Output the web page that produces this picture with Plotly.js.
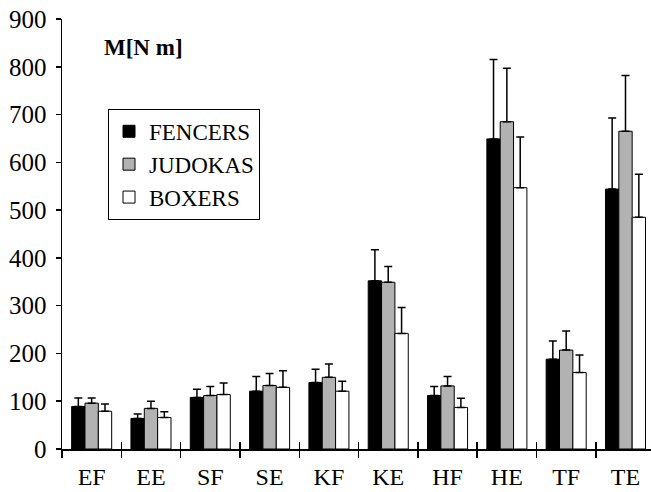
<!DOCTYPE html>
<html>
<head>
<meta charset="utf-8">
<script src="https://cdn.plot.ly/plotly-3.0.1.min.js"></script>
<style>html,body{margin:0;padding:0;background:#fff;overflow:hidden}</style>
</head>
<body>
<div id="chart" style="width:651px;height:492px"></div>
<script>
const categories = ['EF','EE','SF','SE','KF','KE','HF','HE','TF','TE'];
const fencers   = [89, 64, 108, 121, 139, 352, 112, 649, 188, 544];
const judokas   = [96, 85, 112, 133, 150, 349, 132, 685, 207, 665];
const boxers    = [79, 66, 114, 129, 121, 242, 87, 547, 160, 485];
const fencersSD = [18, 9, 17, 31, 28, 65, 19, 166, 38, 149];
const judokasSD = [11, 15, 19, 25, 28, 33, 20, 112, 40, 117];
const boxersSD  = [15, 12, 24, 35, 21, 54, 19, 106, 37, 90];
const seriesNames = ['FENCERS','JUDOKAS','BOXERS'];
const seriesColors = ['#000000','#b2b2b2','#ffffff'];

const FONT = '"Liberation Serif", "Times New Roman", serif';
const vals = [fencers, judokas, boxers];
const sds = [fencersSD, judokasSD, boxersSD];

const traces = vals.map((v, i) => ({
  type: 'bar',
  name: seriesNames[i],
  x: categories,
  y: v,
  marker: {color: seriesColors[i], line: {color: '#000', width: 1}},
  error_y: {type: 'data', symmetric: false, array: sds[i], arrayminus: v.map(() => 0),
            color: '#000', thickness: 1.5, width: 4},
  hoverinfo: 'x+y'
}));
// invisible helper trace so the overlay axis draws the inner half of the category ticks
traces.push({type: 'scatter', mode: 'markers', x: categories, y: fencers, xaxis: 'x2',
  marker: {opacity: 0}, showlegend: false, hoverinfo: 'skip'});

const layout = {
  width: 651, height: 492,
  margin: {l: 62, r: 0, t: 19, b: 43},
  paper_bgcolor: '#fff', plot_bgcolor: '#fff',
  font: {family: FONT, color: '#000', size: 22},
  barmode: 'group', bargap: 0.325, bargroupgap: 0,
  showlegend: true,
  title: {text: '<b>M[N m]</b>', font: {family: FONT, size: 23, color: '#000'},
          xref: 'container', yref: 'container', x: 104/651, xanchor: 'left',
          y: 1 - 47/492, yanchor: 'middle'},
  legend: {x: (108-62)/589, y: (448.7-109)/429.4, xanchor: 'left', yanchor: 'top',
           bordercolor: '#000', borderwidth: 1, bgcolor: '#fff',
           font: {family: FONT, size: 23, color: '#000'}, tracegroupgap: 0,
           itemwidth: 30},
  xaxis: {type: 'category', range: [-0.5, 9.43], showline: true, linecolor: '#000', linewidth: 1.5,
          ticks: 'outside', tickson: 'boundaries', ticklen: 7, tickwidth: 1.5, tickcolor: '#000',
          ticklabelstandoff: 6,
          showgrid: false, zeroline: false, tickfont: {family: FONT, size: 24, color: '#000'},
          fixedrange: true},
  xaxis2: {type: 'category', overlaying: 'x', matches: 'x', anchor: 'y', side: 'bottom',
           ticks: 'inside', tickson: 'boundaries', ticklen: 7, tickwidth: 1.5, tickcolor: '#000',
           showticklabels: false, showline: false, showgrid: false, zeroline: false},
  yaxis: {range: [0, 900], dtick: 100, showline: true, linecolor: '#000', linewidth: 1.5,
          ticks: 'outside', ticklen: 5, tickwidth: 1.5, tickcolor: '#000',
          ticklabelstandoff: 4,
          showgrid: false, zeroline: false, tickfont: {family: FONT, size: 25, color: '#000'},
          fixedrange: true}
};

Plotly.newPlot('chart', traces, layout, {displayModeBar: false, staticPlot: true});
</script>
</body>
</html>
